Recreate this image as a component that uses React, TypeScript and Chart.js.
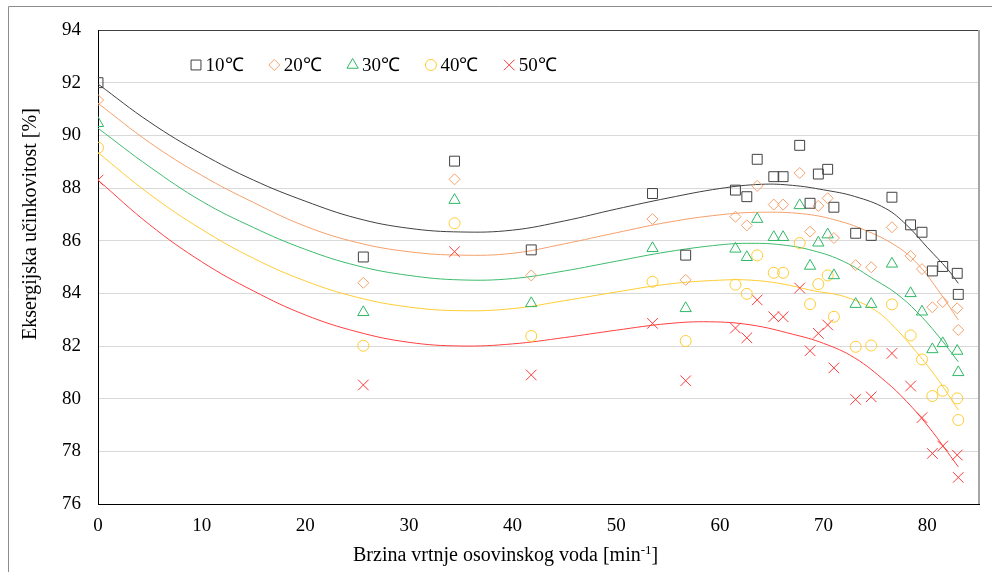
import React, { useEffect, useRef } from 'react';
import { Chart, registerables } from 'chart.js';

Chart.register(...registerables);

// ---------------- data ----------------
const seriesLabels = ['10℃', '20℃', '30℃', '40℃', '50℃'];

const speedValues = [0, 25.6, 34.4, 41.8, 53.5, 56.7, 61.5, 62.6, 63.6, 65.2, 66.1, 67.7, 68.7, 69.5, 70.4, 71.0, 73.1, 74.6, 76.6, 78.4, 79.5, 80.5, 81.5, 82.9, 83.0];

const eff10 = [92.0, 85.38, 89.02, 85.65, 87.79, 85.45, 87.92, 87.67, 89.09, 88.43, 88.43, 89.62, 87.42, 88.53, 88.71, 87.27, 86.28, 86.2, 87.65, 86.6, 86.32, 84.85, 85.02, 84.76, 83.96];
const eff20 = [91.34, 84.4, 88.33, 84.68, 86.82, 84.51, 86.91, 86.58, 88.08, 87.37, 87.37, 88.57, 86.34, 87.32, 87.61, 86.1, 85.07, 84.99, 86.51, 85.42, 84.92, 83.47, 83.67, 83.43, 82.61];
const eff30 = [90.46, 83.28, 87.54, 83.62, 85.71, 83.43, 85.69, 85.37, 86.82, 86.13, 86.13, 87.34, 85.04, 85.92, 86.23, 84.68, 83.59, 83.59, 85.12, 84.0, 83.3, 81.87, 82.1, 81.81, 81.0];
const eff40 = [89.53, 82.01, 86.66, 82.38, 84.44, 82.19, 84.33, 83.98, 85.44, 84.78, 84.78, 85.91, 83.59, 84.35, 84.68, 83.11, 81.97, 82.02, 83.58, 82.4, 81.49, 80.1, 80.3, 80.01, 79.19];
const eff50 = [88.3, 80.52, 85.58, 80.9, 82.86, 80.68, 82.68, 82.31, 83.75, 83.11, 83.11, 84.2, 81.82, 82.48, 82.8, 81.17, 79.97, 80.07, 81.72, 80.48, 79.28, 77.92, 78.2, 77.86, 77.01];

// trend lines
const trend10X = [0, 5, 10, 15, 20, 25, 30, 35, 40, 45, 50, 55, 60, 64, 67, 70, 73, 76, 78, 80, 82, 83];
const trend10Y = [91.95, 90.5, 89.3, 88.3, 87.5, 86.85, 86.47, 86.33, 86.4, 86.75, 87.2, 87.62, 87.98, 88.14, 88.1, 87.93, 87.68, 87.22, 86.6, 85.75, 84.9, 84.38];
const trend20X = [0, 5, 10, 15, 20, 25, 30, 35, 40, 45, 50, 55, 60, 64, 68, 71, 74, 77, 79, 81, 83];
const trend20Y = [91.22, 89.72, 88.48, 87.45, 86.55, 85.93, 85.58, 85.45, 85.52, 85.88, 86.3, 86.7, 86.98, 87.08, 87.02, 86.8, 86.4, 85.8, 85.15, 84.15, 82.99];
const trend30X = [0, 5, 10, 15, 20, 25, 30, 35, 40, 45, 50, 55, 60, 63, 66, 69, 72, 75, 77, 79, 81, 83];
const trend30Y = [90.27, 88.8, 87.5, 86.5, 85.67, 85.05, 84.68, 84.51, 84.56, 84.85, 85.22, 85.58, 85.84, 85.9, 85.84, 85.62, 85.2, 84.5, 84.0, 83.3, 82.42, 81.4];
const trend40X = [0, 5, 10, 15, 20, 25, 30, 35, 40, 45, 50, 55, 60, 63, 66, 69, 72, 75, 77, 79, 81, 83];
const trend40Y = [89.34, 87.76, 86.43, 85.33, 84.47, 83.85, 83.48, 83.34, 83.42, 83.72, 84.05, 84.35, 84.5, 84.5, 84.36, 84.1, 83.88, 83.35, 82.65, 81.75, 80.75, 79.57];
const trend50X = [0, 5, 10, 15, 20, 25, 30, 35, 40, 45, 50, 55, 59, 63, 67, 70, 73, 76, 78, 80, 82, 83];
const trend50Y = [88.3, 86.6, 85.2, 84.09, 83.18, 82.54, 82.14, 82.0, 82.08, 82.32, 82.6, 82.85, 82.92, 82.8, 82.45, 82.1, 81.55, 80.65, 79.9, 79.0, 77.95, 77.41];

const xTitle = 'Brzina vrtnje osovinskog voda [min';
const xTitleSup = '-1';
const yTitle = 'Eksergijska učinkovitost [%]';

// ---------------- styles ----------------
const FONT = "'Liberation Serif', 'Times New Roman', serif";
const markerColors = ['#404040', '#F4A26B', '#2FB865', '#FFCC33', '#FF3B3B'];
const lineColors = ['#404040', '#F4A06C', '#3CBC6C', '#FFCC33', '#FF4040'];
const pointStyles = ['rect', 'rectRot', 'triangle', 'circle', 'crossRot'];
const pointRadii = [7, 5.5, 6.5, 5.5, 7.5];

const effSeries = [eff10, eff20, eff30, eff40, eff50];
const trendXs = [trend10X, trend20X, trend30X, trend40X, trend50X];
const trendYs = [trend10Y, trend20Y, trend30Y, trend40Y, trend50Y];

function drawMarker(ctx: CanvasRenderingContext2D, style: string, x: number, y: number, r: number, color: string) {
  ctx.save();
  ctx.strokeStyle = color;
  ctx.lineWidth = 1;
  ctx.beginPath();
  if (style === 'rect') {
    const s = r * Math.SQRT1_2;
    ctx.rect(x - s, y - s, 2 * s, 2 * s);
  } else if (style === 'rectRot') {
    ctx.moveTo(x - r, y);
    ctx.lineTo(x, y - r);
    ctx.lineTo(x + r, y);
    ctx.lineTo(x, y + r);
    ctx.closePath();
  } else if (style === 'triangle') {
    let a = 0;
    ctx.moveTo(x + Math.sin(a) * r, y - Math.cos(a) * r);
    a += (2 * Math.PI) / 3;
    ctx.lineTo(x + Math.sin(a) * r, y - Math.cos(a) * r);
    a += (2 * Math.PI) / 3;
    ctx.lineTo(x + Math.sin(a) * r, y - Math.cos(a) * r);
    ctx.closePath();
  } else if (style === 'circle') {
    ctx.arc(x, y, r, 0, Math.PI * 2);
  } else if (style === 'crossRot') {
    const d = r * Math.SQRT1_2;
    ctx.moveTo(x - d, y - d);
    ctx.lineTo(x + d, y + d);
    ctx.moveTo(x + d, y - d);
    ctx.lineTo(x - d, y + d);
  }
  ctx.stroke();
  ctx.restore();
}

const decorPlugin = {
  id: 'decor',
  afterDraw(chart: any) {
    const ctx: CanvasRenderingContext2D = chart.ctx;
    const area = chart.chartArea;
    ctx.save();
    // outer chart frame
    ctx.strokeStyle = '#8c8c8c';
    ctx.lineWidth = 1;
    ctx.beginPath();
    ctx.moveTo(8.5, 572);
    ctx.lineTo(8.5, 6.5);
    ctx.lineTo(992, 6.5);
    ctx.stroke();
    // right plot border
    ctx.strokeStyle = '#a6a6a6';
    ctx.lineWidth = 2;
    ctx.beginPath();
    ctx.moveTo(area.right, area.top);
    ctx.lineTo(area.right, area.bottom);
    ctx.stroke();

    // legend
    const legendY = 65;
    const startX = 196;
    const step = 78.3;
    ctx.font = `19px ${FONT}`;
    ctx.fillStyle = '#000';
    ctx.textBaseline = 'middle';
    ctx.textAlign = 'left';
    seriesLabels.forEach((lab, i) => {
      const mx = startX + i * step;
      drawMarker(ctx, pointStyles[i], mx, legendY, pointRadii[i], markerColors[i]);
      ctx.fillText(lab, mx + 9.5, legendY + 1);
    });

    // x title
    ctx.textBaseline = 'alphabetic';
    ctx.font = `20px ${FONT}`;
    let tx = 353;
    const ty = 561;
    ctx.fillText(xTitle, tx, ty);
    tx += ctx.measureText(xTitle).width;
    ctx.font = `13px ${FONT}`;
    ctx.fillText(xTitleSup, tx, ty - 7);
    tx += ctx.measureText(xTitleSup).width;
    ctx.font = `20px ${FONT}`;
    ctx.fillText(']', tx, ty);

    // y title
    ctx.translate(36, 340);
    ctx.rotate(-Math.PI / 2);
    ctx.fillText(yTitle, 0, 0);
    ctx.restore();
  },
};

export default function App() {
  const canvasRef = useRef<HTMLCanvasElement | null>(null);

  useEffect(() => {
    if (!canvasRef.current) return;
    const markerSets = effSeries.map((ys, i) => ({
      label: seriesLabels[i],
      data: speedValues.map((x, j) => ({ x, y: ys[j] })),
      showLine: false,
      pointStyle: pointStyles[i],
      pointRadius: pointRadii[i],
      borderColor: markerColors[i],
      backgroundColor: 'rgba(0,0,0,0)',
      pointBorderWidth: 1,
      order: 1,
    }));
    const trendSets = trendXs.map((xs, i) => ({
      label: seriesLabels[i] + ' trend',
      data: xs.map((x, j) => ({ x, y: trendYs[i][j] })),
      showLine: true,
      pointRadius: 0,
      borderColor: lineColors[i],
      borderWidth: 1,
      backgroundColor: 'rgba(0,0,0,0)',
      tension: 0.4,
      fill: false,
      order: 2,
    }));

    const chart = new Chart(canvasRef.current, {
      type: 'scatter',
      data: { datasets: [...markerSets, ...trendSets] as any },
      options: {
        responsive: false,
        animation: false,
        events: [],
        layout: { padding: { left: 0, right: 13, top: 30, bottom: 0 } },
        plugins: { legend: { display: false }, tooltip: { enabled: false } },
        scales: {
          x: {
            type: 'linear',
            min: 0,
            max: 85,
            afterFit: (s: any) => {
              s.height = 68;
            },
            ticks: {
              stepSize: 10,
              includeBounds: false,
              padding: 11,
              color: '#000',
              font: { family: FONT, size: 19 },
            },
            grid: { display: false, drawTicks: false },
            border: { display: true, color: '#000', width: 1 },
          },
          y: {
            type: 'linear',
            min: 76,
            max: 94,
            afterFit: (s: any) => {
              s.width = 98;
            },
            ticks: {
              stepSize: 2,
              padding: 17,
              color: '#000',
              font: { family: FONT, size: 19 },
            },
            grid: {
              drawTicks: false,
              lineWidth: 1,
              color: (c: any) => (c.tick && c.tick.value === 94 ? '#404040' : c.tick && c.tick.value === 76 ? '#000' : '#d9d9d9'),
            },
            border: { display: true, color: '#000', width: 1 },
          },
        },
      } as any,
      plugins: [decorPlugin],
    });
    return () => chart.destroy();
  }, []);

  return (
    <div style={{ position: 'absolute', left: 0, top: 0, width: 992, height: 572, background: '#fff' }}>
      <canvas ref={canvasRef} width={992} height={572} style={{ display: 'block' }} />
    </div>
  );
}
